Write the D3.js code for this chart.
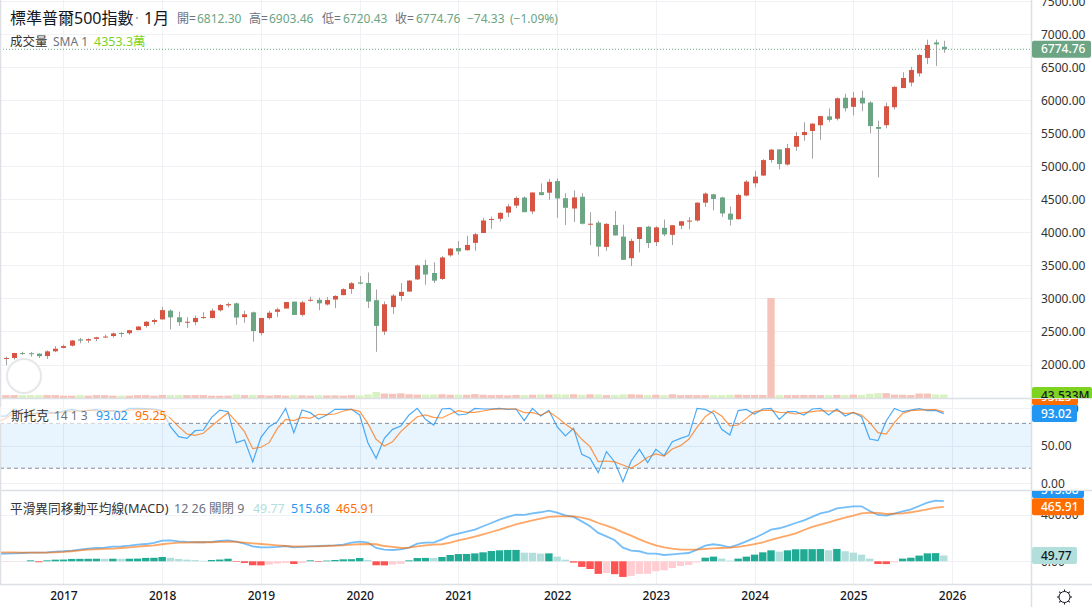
<!DOCTYPE html>
<html>
<head>
<meta charset="utf-8">
<script src="https://cdn.jsdelivr.net/npm/d3@7"></script>
<style>
  html, body { margin: 0; padding: 0; background: #fff; }
  svg { display: block; }
  text { font-family: "Noto Sans", "Noto Sans CJK TC", sans-serif; }
</style>
</head>
<body>
<svg id="svg" width="1092" height="607"></svg>
<script>
// monthly candles, Jun 2016 .. Dec 2025
var opens = [2093,2099,2173,2171,2164,2128,2200,
  2251,2285,2381,2363,2388,2415,2431,2477,2474,2521,2583,2645,
  2683,2816,2715,2633,2642,2718,2704,2821,2896,2926,2717,2790,
  2476,2703,2798,2848,2952,2751,2971,2980,2909,2984,3050,3144,
  3244,3235,2974,2499,2870,3038,3105,3289,3508,3386,3296,3653,
  3764,3731,3842,3992,4191,4207,4300,4407,4529,4318,4610,4602,
  4778,4519,4363,4540,4130,4149,3781,4113,3937,3610,3901,4087,
  3853,4070,3964,4102,4166,4181,4451,4578,4530,4285,4201,4559,
  4745,4862,5098,5258,5029,5298,5475,5537,5624,5758,5723,6040,
  5903,6040,5968,5597,5625,5897,6187,6270,6409,6644,6878,6812.30];
var highs = [2120,2178,2193,2187,2169,2214,2278,
  2301,2371,2401,2398,2418,2454,2484,2491,2519,2582,2657,2694,
  2872,2835,2801,2717,2742,2791,2848,2916,2940,2939,2815,2800,
  2708,2813,2860,2949,2954,2964,3028,3014,3022,3050,3154,3248,
  3338,3394,3136,2955,3068,3233,3280,3515,3587,3550,3646,3760,
  3870,3950,3995,4218,4238,4302,4429,4546,4546,4608,4743,4808,
  4819,4595,4637,4594,4307,4178,4140,4325,4119,3906,4080,4101,
  4095,4195,4110,4170,4231,4458,4607,4584,4541,4393,4587,4793,
  4931,5111,5264,5264,5342,5524,5669,5651,5767,5878,6044,6100,
  6128,6147,5987,5696,5968,6215,6427,6508,6700,6920,6920,6903.46];
var lows = [1991,2074,2147,2119,2098,2084,2187,
  2245,2272,2322,2328,2352,2405,2407,2417,2446,2520,2557,2605,
  2682,2532,2585,2553,2594,2691,2699,2802,2864,2603,2631,2346,
  2443,2681,2722,2848,2750,2729,2952,2822,2892,2855,3050,3070,
  3214,2855,2192,2447,2767,2966,3101,3279,3209,3234,3280,3633,
  3662,3725,3723,3992,4056,4164,4234,4368,4306,4279,4560,4495,
  4222,4114,4157,4121,3810,3637,3721,3955,3584,3491,3698,3764,
  3794,3943,3809,4049,4048,4166,4385,4335,4238,4103,4197,4546,
  4682,4853,5057,4954,5011,5235,5390,5119,5402,5674,5696,5832,
  5773,5837,5505,4835,5578,5862,6202,6212,6360,6550,6521,6720.43];
var closes = [2098.9,2173.6,2171,2168.3,2126.2,2198.8,2238.8,
  2278.9,2363.6,2362.7,2384.2,2411.8,2423.4,2470.3,2471.7,2519.4,2575.3,2647.6,2673.6,
  2823.8,2713.8,2640.9,2648,2705.3,2718.4,2816.3,2901.5,2914,2711.7,2760.2,2506.9,
  2704.1,2784.5,2834.4,2945.8,2750.5,2941.8,2980.4,2926.5,2976.7,3037.6,3141,3230.8,
  3225.5,2954.2,2584.6,2912.4,3044.3,3100.3,3271.1,3500.3,3363,3270,3621.6,3756.1,
  3714.2,3811.2,3972.9,4181.2,4204.1,4297.5,4395.3,4522.7,4307.5,4605.4,4567,4766.2,
  4515.6,4373.9,4530.4,4131.9,4132.2,3785.4,4130.3,3955,3585.6,3872,4080.1,3839.5,
  4076.6,3970.2,4109.3,4169.5,4179.8,4450.4,4589,4507.7,4288.1,4193.8,4567.8,4769.8,
  4845.7,5096.3,5254.4,5035.7,5277.5,5460.5,5522.3,5648.4,5762.5,5705.5,6032.4,5881.6,
  6040.5,5954.5,5611.9,5569.1,5911.7,6205,6339.4,6460.3,6688.5,6840.2,6849.09,6774.76];
// volume, millions
var volumes = [36,36,36,36,36,36,36,
  29,29,36,29,36,36,29,29,29,36,36,29,
  38,36,38,36,36,36,29,29,30,43,36,38,
  36,30,36,30,36,33,30,36,32,33,30,36,
  32,45,75,55,52,58,46,42,42,44,46,40,
  42,40,48,40,36,38,34,38,38,40,44,42,
  46,44,46,40,46,44,36,38,44,46,42,38,
  40,36,46,36,38,36,36,36,36,40,42,38,
  38,38,1240,36,36,36,38,38,36,36,38,38,
  42,38,52,60,60,42,40,36,55,55,44,43.533];
// indicator lines run from May 2016, so they reach the left edge
var stochK = [89.8,89.8,98.7,93.4,91.2,94.3,95.6,93.4,
  96.5,98.7,96.5,97,98.7,96.5,97,95.6,100,100,99.6,99.2,
  97,75.6,62.2,60,70.2,71.1,88,97.8,95.6,54.2,57.8,28.4,
  61.3,75.6,82.3,100,67.6,97.8,94.3,85.8,91.2,98.7,98.7,98.7,
  91.2,54.2,33.3,60,72,76.5,91.2,100,85.4,77.8,99.2,100,
  91.2,92.5,100,99.2,99.2,100,98.7,99.2,83.6,100,89.8,97.4,
  75.6,63.1,73.3,38.6,33.3,14.1,42.2,28.4,2.1,29.7,45.3,27.5,
  45.3,36.8,55.5,60,63.6,100,98.7,93.4,72,64.4,97,98.7,
  92.5,99.2,100,85.4,95.6,95.6,91.2,99.2,100,91.2,99.2,89.8,
  94.7,88.9,59.1,56.9,83.1,100,95.6,97.8,99.6,97,97.4,93.02];
var stochD = [81.5,86.7,94.3,94.3,93.4,92.5,92.5,94.3,
  94.3,96.5,96.5,97.8,96.5,97.4,96.5,96,97.8,98.7,98.7,98.3,
  96.5,86.7,75.6,65.8,64,66.7,76.5,85.4,94.3,82.3,68.9,46.2,
  48,54.2,73.3,85.4,83.6,88,86.7,92.1,91.6,92.5,96.5,98.7,
  96,80,58.7,49.8,55.5,68.9,79.1,88.9,91.2,88,87.2,92.5,
  97,94.7,94.7,96.5,98.7,99.2,99.2,99.2,94.3,94.3,91.2,95.6,
  88,79.1,71.1,58.7,48.9,28.8,29.7,28.4,24.4,19.9,26.6,34.6,
  39.1,36.4,45.7,50.2,58.7,74.7,88.9,97,89.8,76.5,77.8,86.7,
  95.6,97.4,97.4,94.7,94.3,92.5,94.3,95.6,97,96.5,97,93,
  94.3,91.2,80.9,67.6,65.8,80.9,93.4,97,97.8,98.3,98.3,95.25];
var macdLine = [64,66,68,71,74,74,77,83,
  86,91,100,108,114,117,126,128,134,143,148,157,
  177,180,171,166,163,163,166,174,180,168,151,128,
  120,120,123,131,120,123,128,131,134,137,143,160,
  168,160,114,100,97,103,117,151,160,160,188,220,
  237,254,271,300,328,357,380,400,397,411,420,434,
  417,394,380,342,300,243,214,180,117,91,86,66,
  66,54,60,66,71,100,134,146,137,120,143,171,
  200,234,271,283,303,328,351,380,411,425,454,462,
  471,471,431,397,391,408,428,445,474,502,519,515.68];
var signalLine = [77,77,77,74,74,74,74,77,
  80,86,94,100,103,106,108,114,120,126,131,137,
  146,154,160,160,163,163,163,166,168,166,160,154,
  148,143,137,131,128,128,128,128,131,134,137,143,
  146,148,146,131,123,114,117,128,137,143,146,160,
  180,194,211,231,251,271,294,317,334,351,365,380,
  385,385,385,374,357,328,305,280,248,220,188,160,
  137,120,108,100,100,100,106,111,114,117,123,134,
  148,163,183,203,220,240,268,294,314,334,354,374,
  391,411,417,414,405,408,411,420,431,445,459,465.91];
var macdHist = [-4,-3,-2,8,-8,8,14,
  15,20,21,21.5,22,21,22,21,22,23,29,30,
  37,30,20,14,10,4,11,15,22,-5,-14,-34,
  -35,-28,-20,-14,-23,-14,8,-5,6,11,17,18,
  28,12,-34,-35,-28,-22,8,28,29,28,37,54,
  62,63,68,77,88,94,97,97.5,74,73,66,68,
  40,14,-11,-48,-66,-108,-100,-110,-134,-125,-108,-107,
  -85,-77,-57,-40,-31,-9,31,40,23,6,23,40,
  57,77,94,83,94,103,103.5,104,105,94,106,86,
  74,57,23,-23,-24,-9,23,31,49,68,70,49.77];

var yearLabels = ['2017','2018','2019','2020','2021','2022','2023','2024','2025','2026'];
var priceTicks = [2000,2500,3000,3500,4000,4500,5000,5500,6000,6500,7000,7500];
var stochTicks = [0,50,100];
var macdTicks = [0,400];

(function() {
  'use strict';

  var svg = d3.select('#svg');

  var colors = {
    up: '#d75442', down: '#6ba583', wick: '#a3a3a3', grid: '#eff1f4', border: '#dcdfe4',
    text: '#333', muted: '#6b7280', volUp: '#f6c3ba', volDown: '#d9f2c2', lime: '#7ed321',
    blue: '#2196f3', orange: '#ff6d00', pale: '#b2dfdb', teal: '#22ab94',
    red: '#ff5252', pink: '#ffcdd2'
  };

  var chartRight = 1031;
  var panes = { main: [0, 398], stoch: [399, 490], macd: [491, 584] };

  // month index, Jun 2016 is 0
  var x = d3.scaleLinear().domain([0, 114]).range([5.9, 943.8]);
  var yPrice = d3.scaleLinear().domain([2000, 7000]).range([364.5, 34.4]);
  var yVol = d3.scaleLinear().domain([0, 1240]).range([398, 298]);
  var yStoch = d3.scaleLinear().domain([0, 100]).range([483.2, 408.4]);
  var yMacd = d3.scaleLinear().domain([0, 400]).range([561.3, 514.6]);

  var yearIdx = yearLabels.map(function(d, i) { return 7 + i * 12; });
  var crisp = function(v) { return Math.round(v) + 0.5; };

  // clips for each pane and its price labels
  var defs = svg.append('defs');
  Object.keys(panes).forEach(function(k) {
    defs.append('clipPath').attr('id', 'clip-' + k).append('rect')
      .attr('x', 0).attr('width', 1092)
      .attr('y', panes[k][0]).attr('height', panes[k][1] - panes[k][0]);
  });

  // gridlines
  var grid = svg.append('g').attr('stroke', colors.grid).attr('stroke-width', 1.2);
  grid.selectAll('.gx').data(yearIdx).enter().append('line')
    .attr('x1', function(d) { return crisp(x(d)); })
    .attr('x2', function(d) { return crisp(x(d)); })
    .attr('y1', 0).attr('y2', 584);
  function hGrid(ticks, scale) {
    grid.selectAll(null).data(ticks).enter().append('line')
      .attr('x1', 0).attr('x2', chartRight)
      .attr('y1', function(d) { return crisp(scale(d)); })
      .attr('y2', function(d) { return crisp(scale(d)); });
  }
  hGrid(priceTicks, yPrice);
  hGrid(stochTicks, yStoch);
  hGrid(macdTicks, yMacd);

  // volume
  var idx = d3.range(opens.length);
  svg.append('g').selectAll('rect').data(idx).enter().append('rect')
    .attr('x', function(i) { return x(i) - 3.7; })
    .attr('width', 7.4)
    .attr('y', function(i) { return yVol(volumes[i]); })
    .attr('height', function(i) { return yVol(0) - yVol(volumes[i]); })
    .attr('fill', function(i) { return closes[i] >= opens[i] ? colors.volUp : colors.volDown; });

  // candles
  var candles = svg.append('g');
  candles.selectAll('line').data(idx).enter().append('line')
    .attr('x1', function(i) { return crisp(x(i)); })
    .attr('x2', function(i) { return crisp(x(i)); })
    .attr('y1', function(i) { return yPrice(highs[i]); })
    .attr('y2', function(i) { return yPrice(lows[i]); })
    .attr('stroke', colors.wick);
  candles.selectAll('rect').data(idx).enter().append('rect')
    .attr('x', function(i) { return Math.round(x(i)) - 2; })
    .attr('width', 5)
    .attr('y', function(i) { return yPrice(Math.max(opens[i], closes[i])); })
    .attr('height', function(i) {
      return Math.max(1, Math.abs(yPrice(opens[i]) - yPrice(closes[i])));
    })
    .attr('fill', function(i) { return closes[i] >= opens[i] ? colors.up : colors.down; });

  // last price line
  svg.append('line')
    .attr('x1', 0).attr('x2', chartRight)
    .attr('y1', yPrice(closes[114])).attr('y2', yPrice(closes[114]))
    .attr('stroke', colors.down).attr('stroke-dasharray', '1 2');

  // round badge lower left
  svg.append('circle').attr('cx', 24).attr('cy', 376).attr('r', 17)
    .attr('fill', '#fff').attr('stroke', '#e6e7e9').attr('stroke-width', 2);

  // stochastic band
  svg.append('rect')
    .attr('x', 0).attr('width', chartRight)
    .attr('y', yStoch(80)).attr('height', yStoch(20) - yStoch(80))
    .attr('fill', '#2196f3').attr('fill-opacity', 0.1);
  svg.append('g').selectAll('line').data([80, 20]).enter().append('line')
    .attr('x1', 0).attr('x2', chartRight)
    .attr('y1', function(d) { return yStoch(d); })
    .attr('y2', function(d) { return yStoch(d); })
    .attr('stroke', '#8a8e99').attr('stroke-dasharray', '4 3');

  function drawLine(values, scale, color, width, opacity, pane) {
    // first entry is one month before the first candle
    var line = d3.line()
      .x(function(d, i) { return x(i - 1); })
      .y(function(d) { return scale(d); });
    svg.append('path')
      .attr('d', line(values))
      .attr('clip-path', 'url(#clip-' + pane + ')')
      .attr('fill', 'none')
      .attr('stroke', color)
      .attr('stroke-width', width)
      .attr('stroke-opacity', opacity);
  }
  drawLine(stochK, yStoch, colors.blue, 1.2, 0.8, 'stoch');
  drawLine(stochD, yStoch, colors.orange, 1.2, 0.7, 'stoch');

  // macd histogram, colour follows direction against previous bar
  svg.append('g').selectAll('rect').data(macdHist).enter().append('rect')
    .attr('x', function(d, i) { return x(i) - 3.7; })
    .attr('width', 7.4)
    .attr('y', function(d) { return Math.min(yMacd(d), yMacd(0)); })
    .attr('height', function(d) { return Math.abs(yMacd(d) - yMacd(0)); })
    .attr('fill', function(d, i) {
      var prev = i > 0 ? macdHist[i - 1] : d;
      if (d >= 0) return d > prev ? colors.teal : colors.pale;
      return d < prev ? colors.red : colors.pink;
    });
  drawLine(macdLine, yMacd, colors.blue, 1.8, 0.62, 'macd');
  drawLine(signalLine, yMacd, colors.orange, 1.8, 0.6, 'macd');

  // pane borders
  svg.append('g').attr('stroke', colors.border).attr('stroke-width', 1.5).selectAll('line')
    .data([[0, 398.5, 1092, 398.5], [0, 490.5, 1092, 490.5], [0, 584.5, 1092, 584.5],
      [chartRight + 0.5, 0, chartRight + 0.5, 607], [0.5, 0, 0.5, 584]])
    .enter().append('line')
    .attr('x1', function(d) { return d[0]; }).attr('y1', function(d) { return d[1]; })
    .attr('x2', function(d) { return d[2]; }).attr('y2', function(d) { return d[3]; });

  // right axes
  function rightAxis(scale, ticks, pane) {
    var g = svg.append('g')
      .attr('transform', 'translate(' + chartRight + ',0)')
      .attr('clip-path', 'url(#clip-' + pane + ')')
      .call(d3.axisRight(scale).tickValues(ticks).tickFormat(d3.format('.2f')).tickSize(0).tickPadding(10));
    g.select('.domain').remove();
    g.selectAll('text').attr('font-size', 12).attr('fill', colors.text)
      .style('font-family', '"Noto Sans", sans-serif');
  }
  rightAxis(yPrice, priceTicks, 'main');
  rightAxis(yStoch, stochTicks, 'stoch');
  rightAxis(yMacd, macdTicks, 'macd');

  // bottom axis
  var xAxis = svg.append('g')
    .attr('transform', 'translate(0,584)')
    .call(d3.axisBottom(x).tickValues(yearIdx)
      .tickFormat(function(d, i) { return yearLabels[i]; }).tickSize(0).tickPadding(7));
  xAxis.select('.domain').remove();
  xAxis.selectAll('text').attr('font-size', 12).attr('font-weight', 500).attr('fill', '#131722')
    .style('font-family', '"Noto Sans", sans-serif');

  // value tags on the axis
  function tag(pane, cy, w, text, bg, fg) {
    var g = svg.append('g').attr('clip-path', 'url(#clip-' + pane + ')');
    g.append('rect').attr('x', chartRight + 1).attr('y', cy - 8.5).attr('width', w).attr('height', 17)
      .attr('rx', 2).attr('fill', bg);
    g.append('text').attr('x', chartRight + 10).attr('y', cy + 4.2)
      .attr('font-size', 12).attr('font-weight', 500).attr('fill', fg).text(text);
  }
  tag('main', 395.5, 60, '43.533M', colors.lime, '#131722');
  tag('main', yPrice(closes[114]), 59, '6774.76', colors.down, '#fff');
  tag('stoch', 396.5, 46, '95.25', colors.orange, '#fff');
  tag('stoch', 413.6, 45, '93.02', colors.blue, '#fff');
  tag('macd', 489.5, 52, '515.68', colors.blue, '#fff');
  tag('macd', 506.7, 52, '465.91', colors.orange, '#fff');
  tag('macd', 555.5, 45, '49.77', colors.pale, '#131722');

  // settings icon
  var gear = svg.append('g').attr('transform', 'translate(1064.5,597)')
    .attr('stroke', '#131722').attr('fill', 'none');
  gear.append('circle').attr('r', 5.5);
  gear.selectAll('line').data(d3.range(8)).enter().append('line')
    .attr('x1', 0).attr('x2', 0).attr('y1', -5.5).attr('y2', -7.5)
    .attr('transform', function(d) { return 'rotate(' + d * 45 + ')'; });

  // legends
  function label(xPos, yPos, size, color, text) {
    svg.append('text').attr('x', xPos).attr('y', yPos)
      .attr('font-size', size).attr('fill', color).text(text);
  }
  label(10, 23.5, 16, '#131722', '標準普爾500指數');
  svg.append('circle').attr('cx', 137).attr('cy', 18).attr('r', 1).attr('fill', '#999');
  label(144, 23.5, 16, '#131722', '1月');
  var ohlc = [[177, '開=', 197, '6812.30'], [249, '高=', 269, '6903.46'],
    [322, '低=', 343, '6720.43'], [395, '收=', 416, '6774.76']];
  ohlc.forEach(function(d) {
    label(d[0], 22.5, 12, colors.muted, d[1]);
    label(d[2], 22.5, 12, colors.down, d[3]);
  });
  label(467, 22.5, 12, colors.down, '\u221274.33');
  label(510, 22.5, 12, colors.down, '(\u22121.09%)');

  label(10, 46, 12.5, colors.text, '成交量');
  label(53, 46, 12, colors.muted, 'SMA 1');
  label(94, 46, 12.5, colors.lime, '4353.3萬');

  svg.append('rect').attr('x', 0).attr('y', 407).attr('width', 169).attr('height', 17)
    .attr('fill', '#fff').attr('fill-opacity', 0.6);
  label(11, 420, 12.6, colors.text, '斯托克');
  label(54, 420, 12, colors.muted, '14 1 3');
  label(96, 420, 12.4, colors.blue, '93.02');
  label(135, 420, 12.4, colors.orange, '95.25');

  label(10, 512.5, 12.7, colors.text, '平滑異同移動平均線(MACD)');
  label(174, 512.5, 12.5, colors.muted, '12 26 關閉 9');
  label(253, 512.5, 12.4, colors.pale, '49.77');
  label(291, 512.5, 12.4, colors.blue, '515.68');
  label(336, 512.5, 12.4, colors.orange, '465.91');
}());
</script>
</body>
</html>
